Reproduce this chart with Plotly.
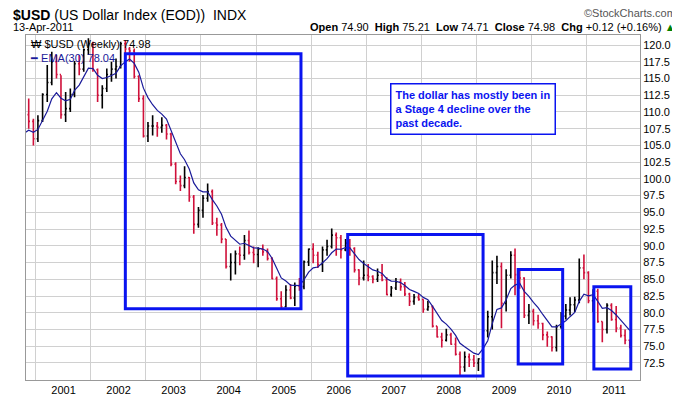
import pandas as pd
import plotly.graph_objects as go

close = [105.9,109.6,108.6,106.0,108.7,112.6,114.4,117.5,115.6,109.6,
110.5,112.6,117.2,116.4,119.3,120.2,116.3,112.5,113.5,115.6,116.4,116.8,
120.2,119.4,119.1,115.3,112.0,106.4,107.9,107.9,107.7,108.0,106.7,102.2,
99.6,99.0,100.2,97.3,93.2,95.3,97.1,98.1,93.4,93.1,91.0,86.9,
87.5,88.8,88.6,90.8,89.0,88.7,89.5,89.1,88.1,85.1,82.1,80.9,
83.4,82.2,84.0,83.9,87.6,89.5,88.6,87.2,89.4,89.9,91.6,91.2,
89.4,90.4,89.6,86.4,85.2,85.6,85.4,85.0,85.6,84.9,82.7,83.7,
84.6,83.9,82.8,81.7,82.3,82.0,80.5,80.9,78.0,76.4,75.9,76.7,
75.3,73.8,71.9,73.4,73.0,72.5,73.1,77.3,79.4,86.0,86.9,81.4,
85.6,88.6,85.7,85.2,79.6,80.2,78.8,78.4,76.7,76.4,74.8,77.9,
79.5,80.4,81.2,81.9,86.7,86.0,81.8,83.2,78.7,77.5,81.1,79.0,
77.7,76.6,75.9,74.98]
high = [107.5,110.0,112.0,109.0,109.5,112.8,117.0,119.0,118.5,115.5,
113.0,113.5,117.6,118.5,119.5,121.0,120.5,116.5,114.0,116.5,117.5,118.0,
120.5,120.7,119.7,119.5,115.5,112.5,108.5,109.5,108.5,109.2,108.2,106.9,
102.5,100.5,101.9,100.3,97.6,95.8,97.6,99.3,98.4,94.2,93.4,91.0,
88.9,89.3,89.9,91.6,92.3,89.9,89.8,90.2,89.6,88.3,85.4,83.2,
84.1,84.3,84.5,85.2,87.8,89.6,90.4,89.1,89.9,90.9,92.6,92.0,
91.6,91.0,91.0,89.8,86.5,87.8,87.3,85.6,86.6,87.3,85.3,84.0,
85.2,85.1,84.6,83.0,82.8,82.8,82.0,81.8,81.1,78.0,77.0,77.6,
77.0,76.3,74.2,74.2,73.9,73.7,73.2,77.6,80.3,87.8,88.5,87.5,
86.5,89.2,89.6,86.7,85.3,81.3,80.6,79.7,78.5,77.2,76.5,78.2,
80.1,81.3,82.3,82.4,88.1,88.7,86.2,83.5,83.6,78.7,81.4,81.4,
81.0,78.2,77.5,76.0]
low = [104.0,105.5,107.5,105.0,105.5,108.5,111.5,114.0,115.0,109.0,
108.5,110.0,112.2,115.5,116.0,118.5,116.0,111.5,110.5,113.0,114.5,115.0,
116.5,118.5,117.5,115.0,111.5,106.2,105.5,106.5,106.3,106.9,105.9,101.9,
99.2,98.2,98.6,96.6,91.8,92.7,94.2,96.6,93.1,91.5,90.4,86.6,
84.8,85.7,87.1,87.9,88.7,87.4,86.8,88.5,87.8,85.0,81.8,80.4,
80.8,82.0,81.0,83.3,83.5,87.0,87.4,86.7,86.1,88.5,89.6,88.5,
88.1,89.2,88.5,86.0,84.1,84.8,84.7,84.4,84.6,84.7,82.6,82.4,
83.4,83.3,82.5,81.0,81.2,81.8,80.0,80.3,77.8,76.3,74.8,75.7,
75.2,73.6,70.7,71.2,71.9,71.9,71.3,73.0,76.3,77.5,84.3,77.7,
80.2,85.1,82.6,83.6,79.2,78.3,78.1,77.6,75.9,74.9,74.2,74.2,
77.6,79.0,79.6,80.1,81.4,85.0,81.4,80.1,78.5,75.6,76.9,78.8,
77.1,76.3,75.3,74.7]
first_open = 105.0
years = list(range(2001, 2012))
yticks = [72.5 + 2.5 * i for i in range(20)]
boxes = [("2002-02-15", "2005-04-25", 80.6, 118.7),
         ("2006-03-01", "2008-08-15", 70.55, 91.7),
         ("2009-04-05", "2010-01-25", 72.35, 86.45),
         ("2010-08-20", "2011-04-22", 71.6, 83.9)]

dates = pd.date_range("2000-03-01", periods=len(close), freq="MS") + pd.Timedelta(days=14)
opens = [first_open] + close[:-1]
ema = pd.Series(close).ewm(span=7, adjust=False).mean()

fig = go.Figure()
fig.add_trace(go.Ohlc(x=dates, open=opens, high=high, low=low, close=close,
                      increasing=dict(line=dict(color="black", width=1.6)),
                      decreasing=dict(line=dict(color="#d0103a", width=1.6)),
                      tickwidth=0.3, showlegend=False, hoverinfo="skip"))
fig.add_trace(go.Scatter(x=dates, y=ema, mode="lines", line=dict(color="#1a1a9a", width=1.2),
                         showlegend=False, hoverinfo="skip"))
fig.add_trace(go.Scatter(x=dates, y=close, xaxis="x2", mode="lines", line=dict(width=0),
                         opacity=0, showlegend=False, hoverinfo="skip"))

for x0, x1, y0, y1 in boxes:
    fig.add_shape(type="rect", x0=x0, x1=x1, y0=y0, y1=y1, xref="x", yref="y",
                  line=dict(color="#0a14f0", width=3))

xr = ["2000-04-27", "2011-06-22"]
font = "Liberation Sans, Arial, sans-serif"
fig.update_layout(
    width=680, height=400, margin=dict(l=18, r=48, t=27, b=20),
    paper_bgcolor="white", plot_bgcolor="white",
    font=dict(family=font, size=11, color="black"),
    xaxis=dict(type="date", range=xr, tickvals=[f"{y}-01-01" for y in years],
               ticktext=[str(y) for y in years], showgrid=False, ticks="",
               rangeslider=dict(visible=False),
               showline=True, linecolor="#999", mirror=True, tickfont=dict(size=11)),
    xaxis2=dict(type="date", range=xr, overlaying="x", showticklabels=False,
                tickvals=[f"{y}-07-01" for y in range(2000, 2011)],
                showgrid=True, gridcolor="#d0d0d0", ticks=""),
    yaxis=dict(side="right", range=[69.95, 121.5], tickvals=yticks,
               ticktext=[f"{v:.1f}" for v in yticks], showgrid=True, gridcolor="#d0d0d0",
               showline=True, linecolor="#999", mirror=True, ticks="", tickfont=dict(size=11)),
)
ann = [
    dict(x=-0.025, y=1.088, text="<b>$USD</b> (US Dollar Index (EOD))  INDX", font=dict(size=14)),
    dict(x=-0.025, y=1.045, text="13-Apr-2011", font=dict(size=11)),
    dict(x=1.062, y=1.088, xanchor="right", text="©StockCharts.com", font=dict(size=11, color="#555")),
    dict(x=1.062, y=1.045, xanchor="right",
         text="<b>Open</b> 74.90  <b>High</b> 75.21  <b>Low</b> 74.71  <b>Close</b> 74.98  <b>Chg</b> +0.12 (+0.16%) <span style='color:green'>▲</span>",
         font=dict(size=11)),
]
for a in ann:
    a.setdefault("xanchor", "left")
    fig.add_annotation(xref="paper", yref="paper", yanchor="top", showarrow=False, **a)
fig.add_annotation(xref="paper", yref="paper", x=0.003, y=0.998, xanchor="left", yanchor="top",
                   showarrow=False, align="left", font=dict(size=11),
                   text="₩ $USD (Weekly) 74.98<br><span style='color:#1a1a9a'>━ EMA(30) 78.04</span>")
fig.add_annotation(xref="paper", yref="paper", x=0.593, y=0.86, xanchor="left", yanchor="top",
                   showarrow=False, align="left", bgcolor="white", bordercolor="#0a14f0",
                   borderwidth=1.5, borderpad=4, font=dict(size=11, color="#0a14f0"),
                   text="<b>The dollar has mostly been in<br>a Stage 4 decline over the<br>past decade.</b>")
fig.write_html("out.html")
